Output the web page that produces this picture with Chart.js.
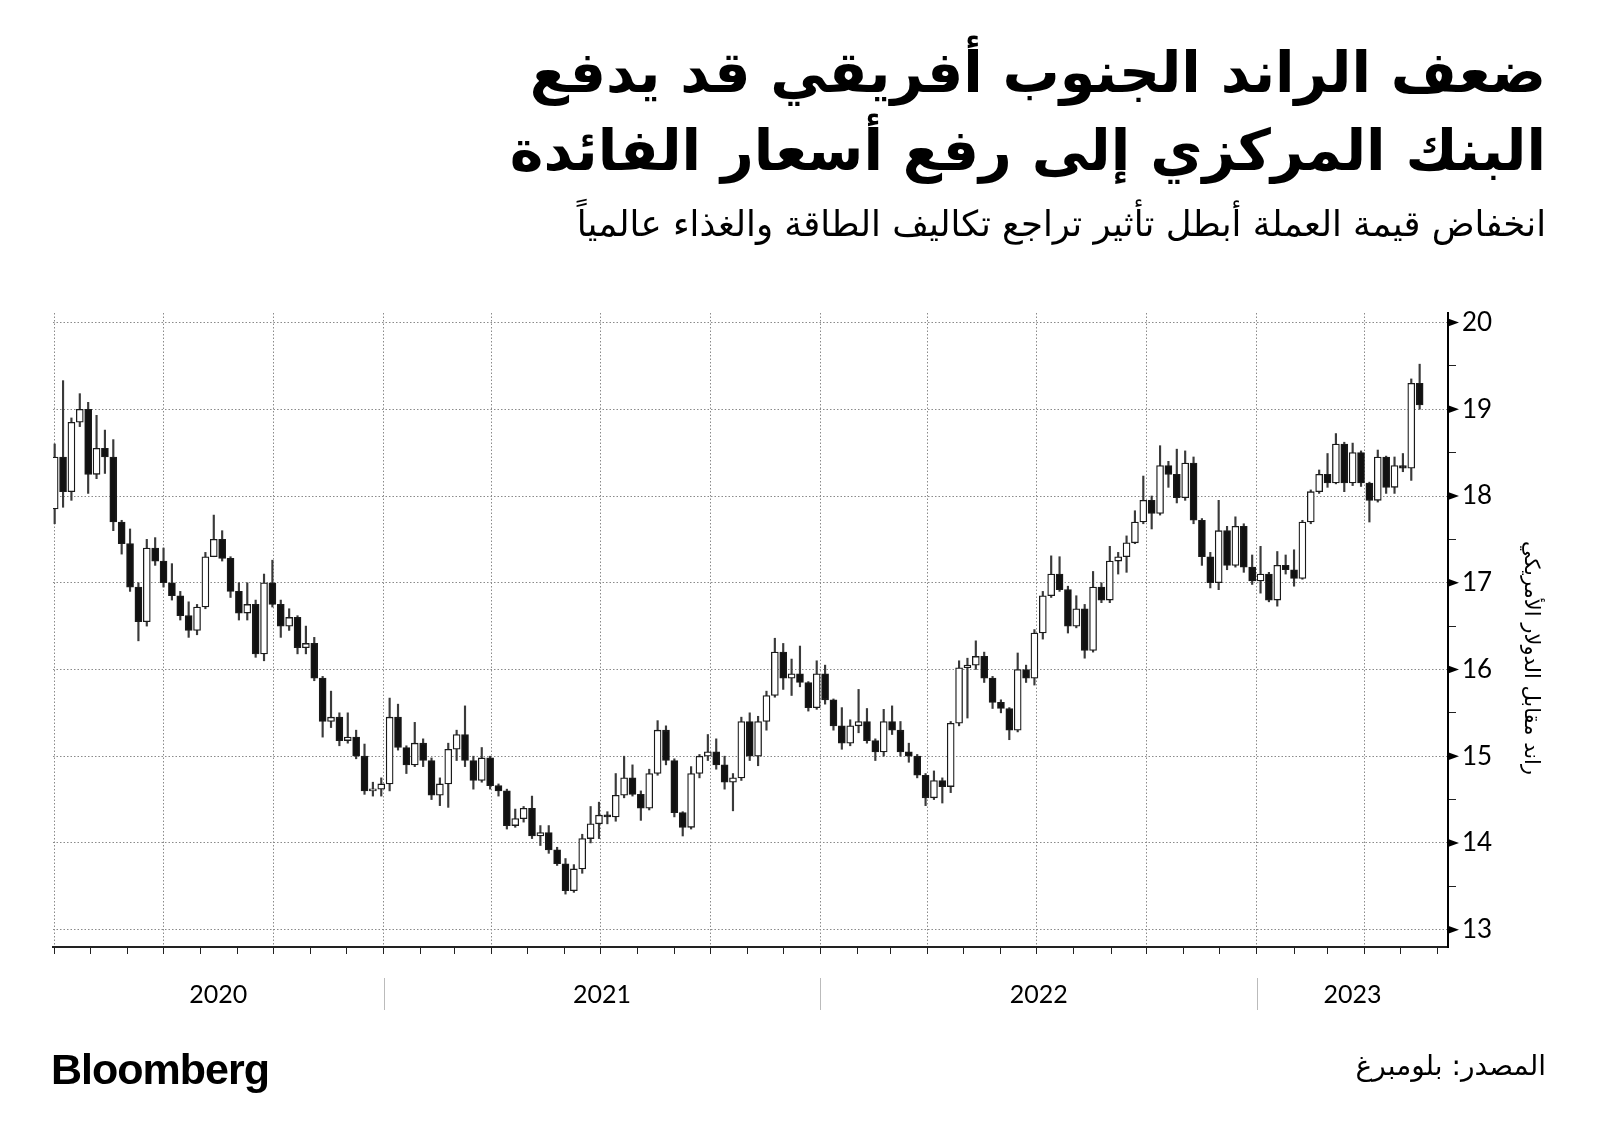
<!DOCTYPE html>
<html lang="ar">
<head>
<meta charset="utf-8">
<title>USD/ZAR</title>
<script src="https://cdn.jsdelivr.net/npm/chart.js@4.4.1/dist/chart.umd.min.js"></script>
<style>
  html, body { margin: 0; padding: 0; background: #fff; }
  body { width: 1600px; height: 1146px; position: relative; overflow: hidden; font-family: 'DejaVu Sans', sans-serif; }
  #wrap { position: absolute; left: 0; top: 0; width: 1600px; height: 1146px; }
  .ar { position: absolute; right: 54px; direction: rtl; text-align: right; white-space: nowrap; color: #000; }
  #t1, #t2 { font-weight: bold; font-size: 57px; line-height: 74px; }
  #t1 { top: 35px; }
  #t2 { top: 113px; }
  #sub { top: 201px; font-size: 35.5px; line-height: 46px; }
  #src { top: 1046px; font-size: 28px; line-height: 40px; }
  #logo { position: absolute; left: 51px; top: 1047px; font-family: 'Liberation Sans', Arial, sans-serif; font-weight: bold; font-size: 43px; line-height: 44px; letter-spacing: -1px; color: #000; }
</style>
</head>
<body>
<div id="wrap"><canvas id="fxChart"></canvas></div>
<div class="ar" id="t1">ضعف الراند الجنوب أفريقي قد يدفع</div>
<div class="ar" id="t2">البنك المركزي إلى رفع أسعار الفائدة</div>
<div class="ar" id="sub">انخفاض قيمة العملة أبطل تأثير تراجع تكاليف الطاقة والغذاء عالمياً</div>
<div class="ar" id="src">المصدر: بلومبرغ</div>
<div id="logo">Bloomberg</div>
<script>
// weekly USD/ZAR candles, first week starting 1 Apr 2020
const openVals = [
  17.85, 18.45, 18.05, 18.85, 19.00, 18.25, 18.55, 18.45, 17.70, 17.45,
  16.95, 16.55, 17.40, 17.25, 17.00, 16.85, 16.62, 16.45, 16.72, 17.30,
  17.50, 17.28, 16.90, 16.65, 16.75, 16.18, 17.00, 16.75, 16.50, 16.60,
  16.25, 16.30, 15.90, 15.40, 15.45, 15.18, 15.22, 15.00, 14.60, 14.62,
  14.68, 15.45, 15.10, 14.90, 15.15, 14.95, 14.55, 14.68, 15.08, 15.25,
  14.95, 14.72, 14.98, 14.66, 14.60, 14.20, 14.28, 14.40, 14.08, 14.12,
  13.92, 13.76, 13.45, 13.70, 14.05, 14.22, 14.32, 14.30, 14.55, 14.75,
  14.56, 14.40, 14.80, 15.30, 14.95, 14.35, 14.18, 14.80, 15.00, 15.05,
  14.90, 14.70, 14.75, 15.40, 15.00, 15.40, 15.70, 16.20, 15.90, 15.95,
  15.85, 15.56, 15.95, 15.65, 15.35, 15.15, 15.35, 15.40, 15.18, 15.05,
  15.40, 15.30, 15.05, 15.00, 14.78, 14.52, 14.72, 14.65, 15.38, 16.02,
  16.05, 16.15, 15.90, 15.62, 15.55, 15.30, 16.00, 15.90, 16.42, 16.85,
  17.10, 16.92, 16.50, 16.70, 16.22, 16.95, 16.80, 17.25, 17.30, 17.46,
  17.70, 17.95, 17.80, 18.35, 18.25, 17.98, 18.38, 17.72, 17.30, 17.00,
  17.60, 17.20, 17.65, 17.18, 17.02, 17.10, 16.80, 17.20, 17.15, 17.05,
  17.70, 18.05, 18.25, 18.15, 18.60, 18.15, 18.50, 18.15, 17.95, 18.45,
  18.10, 18.35, 18.32, 19.30
];
const highVals = [
  18.60, 19.33, 18.90, 19.18, 19.08, 18.93, 18.76, 18.65, 17.72, 17.62,
  17.00, 17.50, 17.52, 17.40, 17.22, 16.90, 16.78, 16.75, 17.35, 17.78,
  17.60, 17.30, 17.00, 17.00, 16.80, 17.10, 17.26, 16.80, 16.70, 16.62,
  16.50, 16.37, 15.92, 15.75, 15.50, 15.50, 15.30, 15.14, 14.70, 14.75,
  15.67, 15.60, 15.12, 15.39, 15.20, 14.98, 14.75, 15.15, 15.30, 15.58,
  15.00, 15.10, 15.00, 14.68, 14.62, 14.39, 14.42, 14.54, 14.20, 14.20,
  13.95, 13.82, 13.75, 14.10, 14.42, 14.47, 14.36, 14.80, 15.00, 14.90,
  14.60, 14.85, 15.41, 15.35, 14.97, 14.36, 14.88, 15.02, 15.25, 15.20,
  15.00, 14.80, 15.45, 15.50, 15.46, 15.75, 16.36, 16.30, 16.12, 16.27,
  15.86, 16.10, 16.05, 15.66, 15.56, 15.42, 15.77, 15.55, 15.20, 15.54,
  15.58, 15.40, 15.15, 15.02, 14.80, 14.83, 14.75, 15.40, 16.10, 16.13,
  16.33, 16.20, 15.92, 15.65, 15.56, 16.19, 16.05, 16.46, 16.90, 17.31,
  17.30, 16.96, 16.85, 16.75, 17.13, 17.00, 17.42, 17.35, 17.54, 17.83,
  18.23, 18.00, 18.58, 18.40, 18.54, 18.52, 18.45, 17.74, 17.35, 17.95,
  17.65, 17.76, 17.68, 17.32, 17.42, 17.12, 17.36, 17.32, 17.38, 17.72,
  18.07, 18.30, 18.49, 18.72, 18.62, 18.61, 18.52, 18.16, 18.53, 18.46,
  18.45, 18.49, 19.35, 19.52
];
const lowVals = [
  17.68, 17.87, 17.95, 18.80, 18.03, 18.20, 18.26, 17.60, 17.33, 16.90,
  16.33, 16.50, 17.20, 16.95, 16.80, 16.57, 16.37, 16.40, 16.70, 17.30,
  17.25, 16.83, 16.57, 16.57, 16.14, 16.10, 16.72, 16.37, 16.45, 16.18,
  16.18, 15.87, 15.22, 15.33, 15.12, 15.15, 14.97, 14.56, 14.54, 14.54,
  14.60, 15.07, 14.80, 14.88, 14.88, 14.50, 14.43, 14.41, 14.95, 14.88,
  14.62, 14.70, 14.62, 14.54, 14.16, 14.18, 14.24, 14.05, 13.97, 13.88,
  13.74, 13.41, 13.43, 13.65, 14.00, 14.05, 14.22, 14.25, 14.52, 14.54,
  14.26, 14.38, 14.78, 14.90, 14.30, 14.08, 14.16, 14.75, 14.95, 14.85,
  14.62, 14.37, 14.72, 14.95, 14.89, 15.30, 15.68, 15.77, 15.70, 15.80,
  15.52, 15.54, 15.60, 15.30, 15.08, 15.12, 15.27, 15.15, 14.95, 15.00,
  15.25, 15.00, 14.93, 14.75, 14.43, 14.50, 14.46, 14.58, 15.35, 15.44,
  16.00, 15.85, 15.55, 15.50, 15.19, 15.28, 15.85, 15.82, 16.35, 16.83,
  16.90, 16.42, 16.48, 16.13, 16.20, 16.77, 16.77, 17.10, 17.12, 17.45,
  17.68, 17.62, 17.78, 18.10, 17.92, 17.95, 17.68, 17.20, 16.94, 16.92,
  17.15, 17.18, 17.12, 16.98, 16.88, 16.78, 16.73, 17.10, 16.96, 17.04,
  17.68, 18.03, 18.10, 18.14, 18.05, 18.12, 18.11, 17.70, 17.93, 18.03,
  18.03, 18.28, 18.18, 19.00
];
const closeVals = [
  18.45, 18.05, 18.85, 19.00, 18.25, 18.55, 18.45, 17.70, 17.45, 16.95,
  16.55, 17.40, 17.25, 17.00, 16.85, 16.62, 16.45, 16.72, 17.30, 17.50,
  17.28, 16.90, 16.65, 16.75, 16.18, 17.00, 16.75, 16.50, 16.60, 16.25,
  16.30, 15.90, 15.40, 15.45, 15.18, 15.22, 15.00, 14.60, 14.62, 14.68,
  15.45, 15.10, 14.90, 15.15, 14.95, 14.55, 14.68, 15.08, 15.25, 14.95,
  14.72, 14.98, 14.66, 14.60, 14.20, 14.28, 14.40, 14.08, 14.12, 13.92,
  13.76, 13.45, 13.70, 14.05, 14.22, 14.32, 14.30, 14.55, 14.75, 14.56,
  14.40, 14.80, 15.30, 14.95, 14.35, 14.18, 14.80, 15.00, 15.05, 14.90,
  14.70, 14.75, 15.40, 15.00, 15.40, 15.70, 16.20, 15.90, 15.95, 15.85,
  15.56, 15.95, 15.65, 15.35, 15.15, 15.35, 15.40, 15.18, 15.05, 15.40,
  15.30, 15.05, 15.00, 14.78, 14.52, 14.72, 14.65, 15.38, 16.02, 16.05,
  16.15, 15.90, 15.62, 15.55, 15.30, 16.00, 15.90, 16.42, 16.85, 17.10,
  16.92, 16.50, 16.70, 16.22, 16.95, 16.80, 17.25, 17.30, 17.46, 17.70,
  17.95, 17.80, 18.35, 18.25, 17.98, 18.38, 17.72, 17.30, 17.00, 17.60,
  17.20, 17.65, 17.18, 17.02, 17.10, 16.80, 17.20, 17.15, 17.05, 17.70,
  18.05, 18.25, 18.15, 18.60, 18.15, 18.50, 18.15, 17.95, 18.45, 18.10,
  18.35, 18.32, 19.30, 19.05
];
const yTicks = [13, 14, 15, 16, 17, 18, 19, 20];
const yearLabels = [2020, 2021, 2022, 2023];
const axisTitle = 'راند مقابل الدولار الأمريكي';

const DAY = 864e5;
const origin = Date.UTC(2020, 0, 1);
const dayNo = (y, m, d) => (Date.UTC(y, m, d) - origin) / DAY;
const firstWeek = dayNo(2020, 3, 1);
const X_MIN = 89.6, X_MAX = 1255.7;

const weekX = openVals.map((_, i) => firstWeek + 7 * i);

const monthTicks = [];
yearLabels.forEach(yr => {
  for (let m = 0; m < 12; m++) {
    const d = dayNo(yr, m, 1);
    if (d >= X_MIN && d <= X_MAX) monthTicks.push(d);
  }
});
const isQuarter = v => new Date(origin + v * DAY).getUTCMonth() % 3 === 0;

const halfTicks = [];
yTicks.forEach(v => { halfTicks.push(v); if (v < 20) halfTicks.push(v + 0.5); });

const isUp = i => closeVals[i] >= openVals[i];

// axis decorations: tick triangles, rotated title, year labels
const decor = {
  id: 'decor',
  afterDraw(chart) {
    const { ctx, chartArea } = chart;
    const x = chart.scales.x, y = chart.scales.y;
    ctx.save();
    ctx.fillStyle = '#000';
    yTicks.forEach(v => {
      const py = y.getPixelForValue(v);
      ctx.beginPath();
      ctx.moveTo(chartArea.right, py - 4);
      ctx.lineTo(chartArea.right + 11, py);
      ctx.lineTo(chartArea.right, py + 4);
      ctx.closePath();
      ctx.fill();
    });

    ctx.save();
    ctx.translate(1530, (chartArea.top + chartArea.bottom) / 2 + 28);
    ctx.rotate(Math.PI / 2);
    ctx.font = '21px "DejaVu Sans"';
    ctx.direction = 'rtl';
    ctx.textAlign = 'center';
    ctx.textBaseline = 'middle';
    ctx.fillText(axisTitle, 0, 0);
    ctx.restore();

    ctx.font = '25px Lato';
    ctx.textAlign = 'center';
    ctx.textBaseline = 'middle';
    ctx.fillStyle = '#000';
    ctx.strokeStyle = '#bbb';
    ctx.lineWidth = 1;
    yearLabels.forEach(yr => {
      const s = Math.max(dayNo(yr, 0, 1), X_MIN);
      const e = Math.min(dayNo(yr + 1, 0, 1), X_MAX);
      ctx.fillText(String(yr), x.getPixelForValue((s + e) / 2), 995);
      if (dayNo(yr, 0, 1) > X_MIN) {
        const px = Math.round(x.getPixelForValue(dayNo(yr, 0, 1))) + 0.5;
        ctx.beginPath();
        ctx.moveTo(px, 978);
        ctx.lineTo(px, 1010);
        ctx.stroke();
      }
    });
    ctx.restore();
  }
};

const fxChart = new Chart(document.getElementById('fxChart'), {
  type: 'bar',
  data: {
    datasets: [
      {
        label: 'range',
        data: weekX.map((d, i) => ({ x: d, y: [lowVals[i], highVals[i]] })),
        backgroundColor: '#3a3a3a',
        barThickness: 1.5,
        grouped: false,
        order: 2
      },
      {
        label: 'body',
        data: weekX.map((d, i) => ({ x: d, y: [openVals[i], closeVals[i]] })),
        backgroundColor: c => isUp(c.dataIndex) ? '#fff' : '#111',
        borderColor: '#1a1a1a',
        borderWidth: 1.3,
        borderSkipped: false,
        barThickness: 7,
        minBarLength: 2,
        grouped: false,
        order: 1
      }
    ]
  },
  options: {
    responsive: true,
    maintainAspectRatio: false,
    animation: false,
    layout: { padding: { left: 53, top: 313, right: 0, bottom: 191 } },
    plugins: {
      legend: { display: false },
      tooltip: { enabled: false }
    },
    scales: {
      x: {
        type: 'linear',
        min: X_MIN,
        max: X_MAX,
        offset: false,
        afterBuildTicks: s => { s.ticks = monthTicks.map(v => ({ value: v })); },
        afterFit: s => { s.height = 8; },
        ticks: { display: false },
        grid: {
          offset: false,
          color: c => (c.tick && isQuarter(c.tick.value)) ? '#8a8a8a' : 'rgba(0,0,0,0)',
          tickColor: '#222',
          tickLength: 7,
          lineWidth: 1
        },
        border: { display: true, color: '#222', width: 2, dash: [1.5, 2] }
      },
      y: {
        position: 'right',
        min: 12.8,
        max: 20.11,
        beginAtZero: false,
        afterBuildTicks: s => { s.ticks = halfTicks.map(v => ({ value: v })); },
        afterFit: s => { s.width = 152; },
        ticks: {
          padding: 6,
          color: '#000',
          font: { family: 'Lato', size: 26 },
          callback: v => Number.isInteger(v) ? String(v) : ''
        },
        grid: {
          color: c => (c.tick && Number.isInteger(c.tick.value)) ? '#8a8a8a' : 'rgba(0,0,0,0)',
          tickColor: c => (c.tick && Number.isInteger(c.tick.value)) ? 'rgba(0,0,0,0)' : '#222',
          tickLength: 8,
          lineWidth: 1
        },
        border: { display: true, color: '#000', width: 2, dash: [1.5, 2] }
      }
    }
  },
  plugins: [decor]
});
</script>
</body>
</html>
